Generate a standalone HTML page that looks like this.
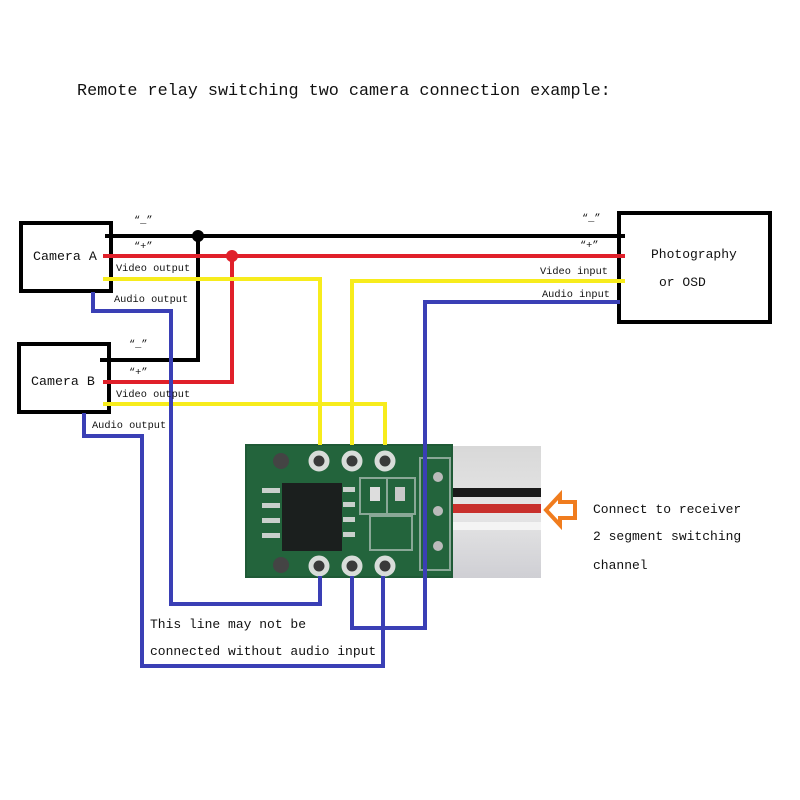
<!DOCTYPE html>
<html><head><meta charset="utf-8"><style>
body{margin:0;background:#fff;}
svg{display:block}
text{font-family:"Liberation Mono","Noto Sans CJK SC",monospace;fill:#111}
</style></head><body>
<svg width="800" height="800" viewBox="0 0 800 800" xmlns="http://www.w3.org/2000/svg">
<rect width="800" height="800" fill="#fff"/>
<text x="77" y="95" font-size="16.8">Remote relay switching two camera connection example:</text>

<defs>
<linearGradient id="cab" x1="0" y1="0" x2="0" y2="1">
<stop offset="0" stop-color="#d8d8d8"/><stop offset="0.5" stop-color="#e6e6e6"/><stop offset="1" stop-color="#cfcfd4"/>
</linearGradient>
</defs>
<rect x="452" y="446" width="89" height="132" fill="url(#cab)"/>
<rect x="452" y="488" width="89" height="9" fill="#1a1a1a"/>
<rect x="452" y="504" width="89" height="9" fill="#c8302c"/>
<rect x="452" y="522" width="89" height="8" fill="#f4f4f4"/>
<rect x="245" y="444" width="208" height="134" fill="#1f5a36"/>
<rect x="247" y="446" width="204" height="130" fill="#23643c"/>
<rect x="282" y="483" width="60" height="68" fill="#1b1f1e"/>
<g fill="#c9d0cc">
<rect x="262" y="488" width="18" height="5"/><rect x="262" y="503" width="18" height="5"/><rect x="262" y="518" width="18" height="5"/><rect x="262" y="533" width="18" height="5"/>
<rect x="343" y="487" width="12" height="5"/><rect x="343" y="502" width="12" height="5"/><rect x="343" y="517" width="12" height="5"/><rect x="343" y="532" width="12" height="5"/>
</g>
<g fill="none" stroke="#8aa897" stroke-width="2">
<rect x="360" y="478" width="55" height="36"/><rect x="370" y="516" width="42" height="34"/><line x1="387" y1="478" x2="387" y2="514"/>
<rect x="420" y="458" width="30" height="112"/>
</g>
<rect x="370" y="487" width="10" height="14" fill="#ddd"/><rect x="395" y="487" width="10" height="14" fill="#c9c9c9"/>
<g fill="#3a3a3a" stroke="#d8dcd9" stroke-width="5">
<circle cx="319" cy="461" r="8"/><circle cx="352" cy="461" r="8"/><circle cx="385" cy="461" r="8"/>
<circle cx="319" cy="566" r="8"/><circle cx="352" cy="566" r="8"/><circle cx="385" cy="566" r="8"/>
</g>
<g fill="#444"><circle cx="281" cy="461" r="8"/><circle cx="281" cy="565" r="8"/></g>
<g fill="#bbb"><circle cx="438" cy="477" r="5"/><circle cx="438" cy="511" r="5"/><circle cx="438" cy="546" r="5"/></g>

<g fill="none" stroke="#000" stroke-width="4">
<rect x="21" y="223" width="90" height="68"/>
<rect x="19" y="344" width="90" height="68"/>
<rect x="619" y="213" width="151" height="109"/>
</g>

<g fill="none" stroke-width="4" stroke-linejoin="miter">
<polyline stroke="#000" points="105,236 625,236"/>
<polyline stroke="#000" points="100,360 198,360 198,236"/>
<polyline stroke="#e0202a" points="103,256 625,256"/>
<polyline stroke="#e0202a" points="103,382 232,382 232,256"/>
<polyline stroke="#f7ec1c" points="103,279 320,279 320,445"/>
<polyline stroke="#f7ec1c" points="625,281 352,281 352,445"/>
<polyline stroke="#f7ec1c" points="103,404 385,404 385,445"/>
<polyline stroke="#3a3fb5" points="93,292 93,311 171,311 171,604 320,604 320,576"/>
<polyline stroke="#3a3fb5" points="84,413 84,436 142,436 142,666 383,666 383,576"/>
<polyline stroke="#3a3fb5" points="352,576 352,628 425,628 425,302 620,302"/>
</g>
<circle cx="198" cy="236" r="6" fill="#000"/>
<circle cx="232" cy="256" r="6" fill="#e0202a"/>

<polygon points="546,510 560,495 560,502 575,502 575,518 560,518 560,525" fill="none" stroke="#f07c1e" stroke-width="4" stroke-linejoin="miter"/>

<text x="33" y="260" font-size="13.3">Camera A</text>
<text x="31" y="385" font-size="13.3">Camera B</text>
<text x="651" y="258" font-size="13">Photography</text>
<text x="659" y="286" font-size="13">or OSD</text>
<g font-size="10.3">
<text x="134" y="223">“_”</text><text x="134" y="249">“+”</text>
<text x="116" y="271">Video output</text><text x="114" y="302">Audio output</text>
<text x="129" y="347">“_”</text><text x="129" y="375">“+”</text>
<text x="116" y="397">Video output</text><text x="92" y="428">Audio output</text>
<text x="582" y="221">“_”</text><text x="580" y="248">“+”</text>
<text x="540" y="274">Video input</text><text x="542" y="297">Audio input</text>
</g>
<g font-size="13">
<text x="593" y="513">Connect to receiver</text>
<text x="593" y="540">2 segment switching</text>
<text x="593" y="569">channel</text>
<text x="150" y="628">This line may not be</text>
<text x="150" y="655">connected without audio input</text>
</g>
</svg>
</body></html>
